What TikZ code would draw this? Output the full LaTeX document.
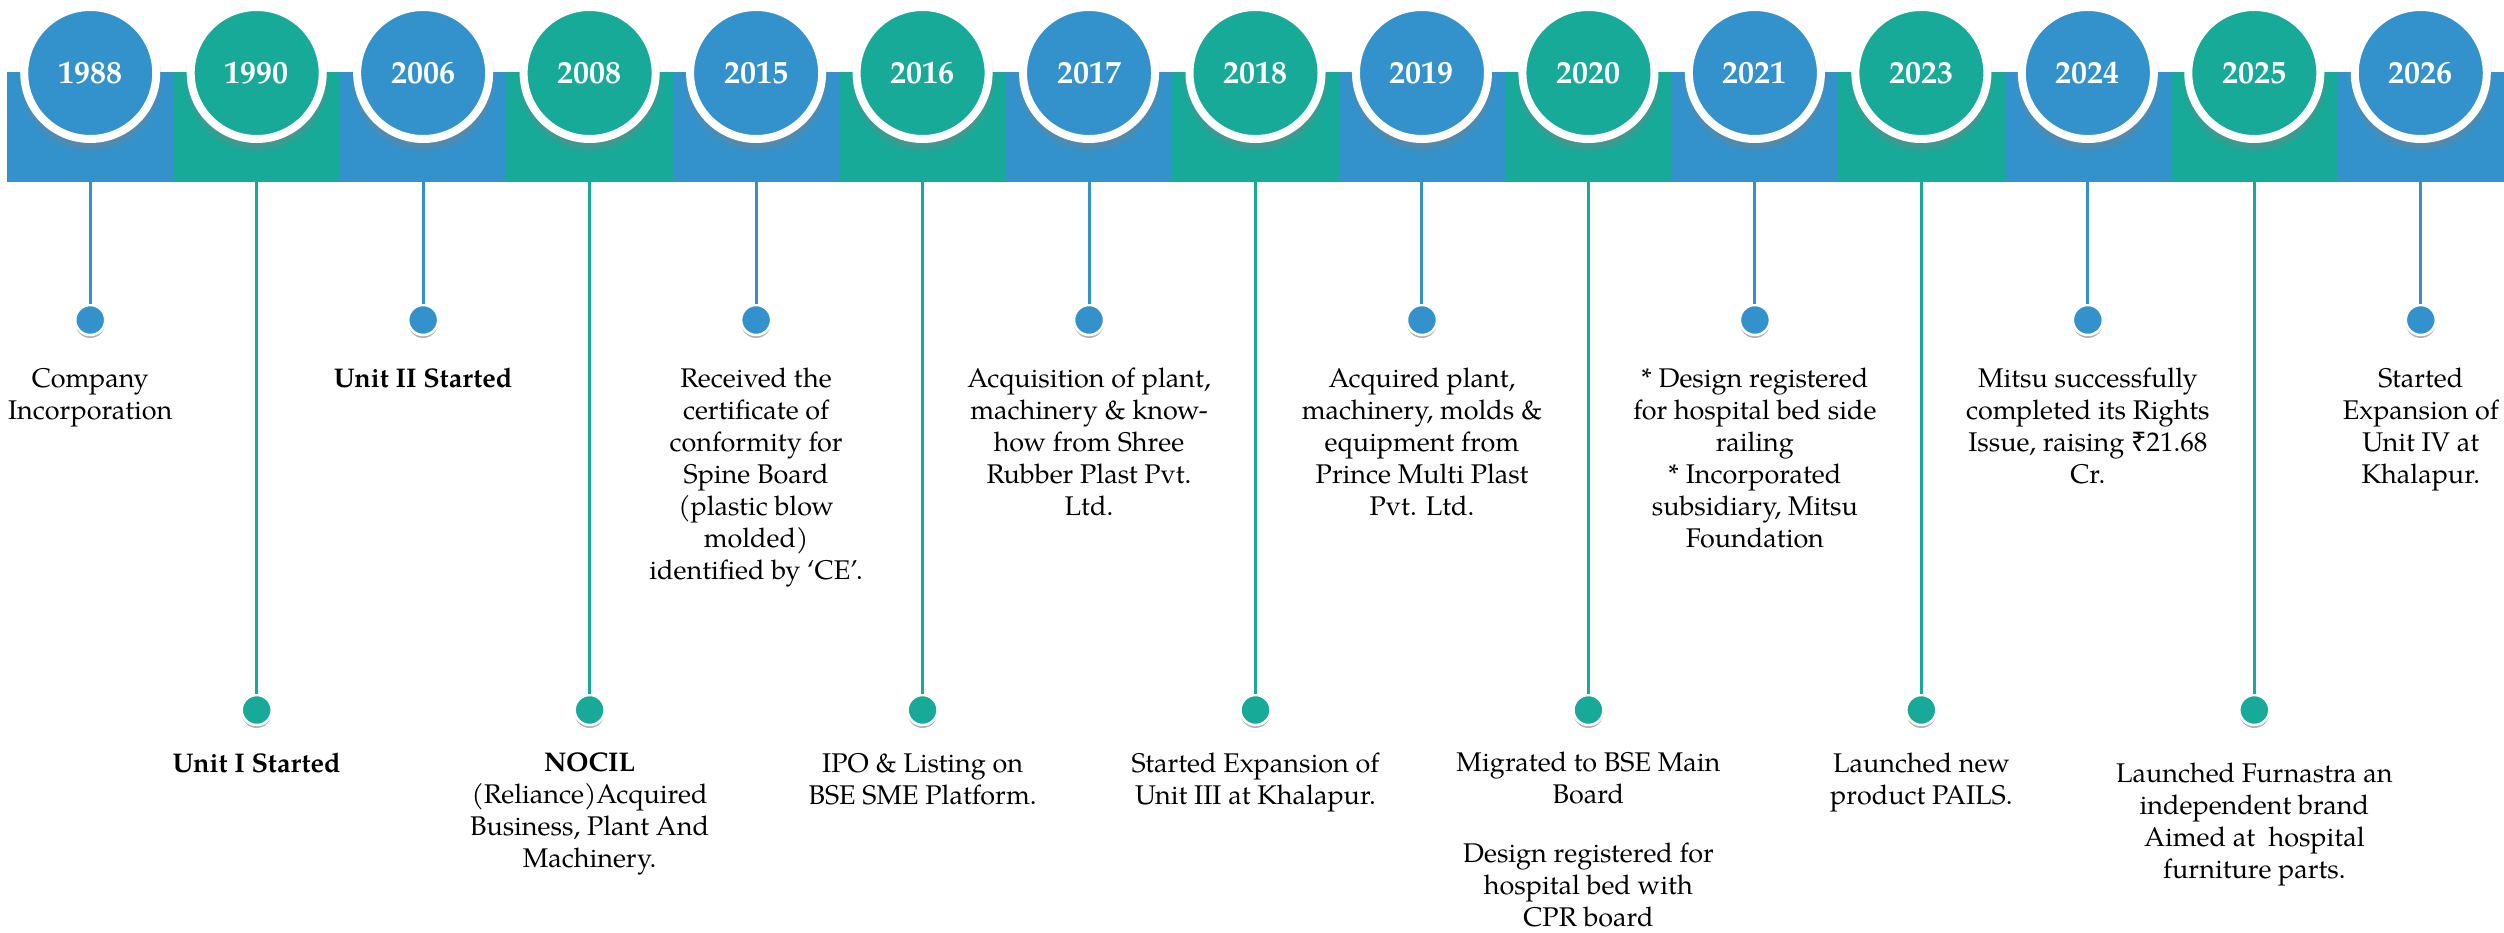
\documentclass[tikz,border=0pt]{standalone}
\usepackage{fontspec}
\setmainfont{TeX Gyre Pagella}
\newfontfamily\rupeefont{Noto Sans}
\usetikzlibrary{shadows}
\definecolor{tlblue}{RGB}{51,146,204}
\definecolor{tlteal}{RGB}{23,170,153}
\begin{document}
\begin{tikzpicture}[x=1pt,y=-1pt,
  yearc/.style={circle, inner sep=0pt, minimum size=132pt, line width=8pt, draw=white,
    font=\fontsize{32}{36}\selectfont\bfseries, text=white,
    circular drop shadow={shadow xshift=0pt, shadow yshift=-7pt, opacity=0.5}},
  dotc/.style={circle, inner sep=0pt, minimum size=30pt, line width=2.5pt, draw=white,
    general shadow={fill=black!30, shadow xshift=0pt, shadow yshift=-3pt}},
  stemline/.style={line width=3pt},
  desc/.style={align=center, inner sep=0pt, anchor=north, font=\fontsize{27}{32}\selectfont},
]
\useasboundingbox (0,0) rectangle (2504,933);
% bar segments
\foreach \i in {0,...,14}{
  \pgfmathsetmacro\xa{7+166.4667*\i}
  \pgfmathsetmacro\xb{7+166.4667*(\i+1)}
  \pgfmathtruncatemacro\parity{mod(\i,2)}
  \ifnum\parity=0 \def\col{tlblue}\else\def\col{tlteal}\fi
  \fill[\col] (\xa,72) rectangle (\xb+0.6,182);
}
% dots, stems and year circles
\foreach \yr [count=\j from 0] in {1988,1990,2006,2008,2015,2016,2017,2018,2019,2020,2021,2023,2024,2025,2026}{
  \pgfmathsetmacro\cx{7+166.4667*(\j+0.5)}
  \pgfmathtruncatemacro\parity{mod(\j,2)}
  \ifnum\parity=0 \def\col{tlblue}\def\dy{320}\else\def\col{tlteal}\def\dy{710}\fi
  \coordinate (b\j) at (\cx,182);
  \node[dotc, fill=\col] (d\j) at (\cx,\dy) {};
  \draw[stemline, \col] (b\j) -- (d\j.north);
  \node[yearc, fill=\col] (y\j) at (\cx,73) {\yr};
}
% top texts
\node[desc] (t0) at (90.2,368) {Company\\Incorporation};
\node[desc, font=\fontsize{27}{32}\selectfont\bfseries] (t2) at (423.2,368) {Unit II Started};
\node[desc] (t4) at (756.1,368) {Received the\\certificate of\\conformity for\\Spine Board\\(plastic blow\\molded)\\identified by ‘CE’.};
\node[desc] (t6) at (1089.0,368) {Acquisition of plant,\\machinery \& know-\\how from Shree\\Rubber Plast Pvt.\\Ltd.};
\node[desc] (t8) at (1422.0,368) {Acquired plant,\\machinery, molds \&\\equipment from\\Prince Multi Plast\\Pvt. Ltd.};
\node[desc] (t10) at (1754.9,368) {* Design registered\\for hospital bed side\\railing\\* Incorporated\\subsidiary, Mitsu\\Foundation};
\node[desc] (t12) at (2087.8,368) {Mitsu successfully\\completed its Rights\\Issue, raising {\rupeefont ₹}21.68\\Cr.};
\node[desc] (t14) at (2420.8,368) {Started\\Expansion of\\Unit IV at\\Khalapur.};
% bottom texts
\node[desc, font=\fontsize{27}{32}\selectfont\bfseries] (t1) at (256.7,753) {Unit I Started};
\node[desc] (t3) at (589.6,753) {\textbf{NOCIL}\\(Reliance)Acquired\\Business, Plant And\\Machinery.};
\node[desc] (t5) at (922.6,753) {IPO \& Listing on\\BSE SME Platform.};
\node[desc] (t7) at (1255.5,753) {Started Expansion of\\Unit III at Khalapur.};
\node[desc] (t9) at (1588.4,752) {Migrated to BSE Main\\Board\\[27pt]Design registered for\\hospital bed with\\CPR board};
\node[desc] (t11) at (1921.4,753) {Launched new\\product PAILS.};
\node[desc] (t13) at (2254.3,763) {Launched Furnastra an\\independent brand\\Aimed at\ \ hospital\\furniture parts.};
\end{tikzpicture}
\end{document}
